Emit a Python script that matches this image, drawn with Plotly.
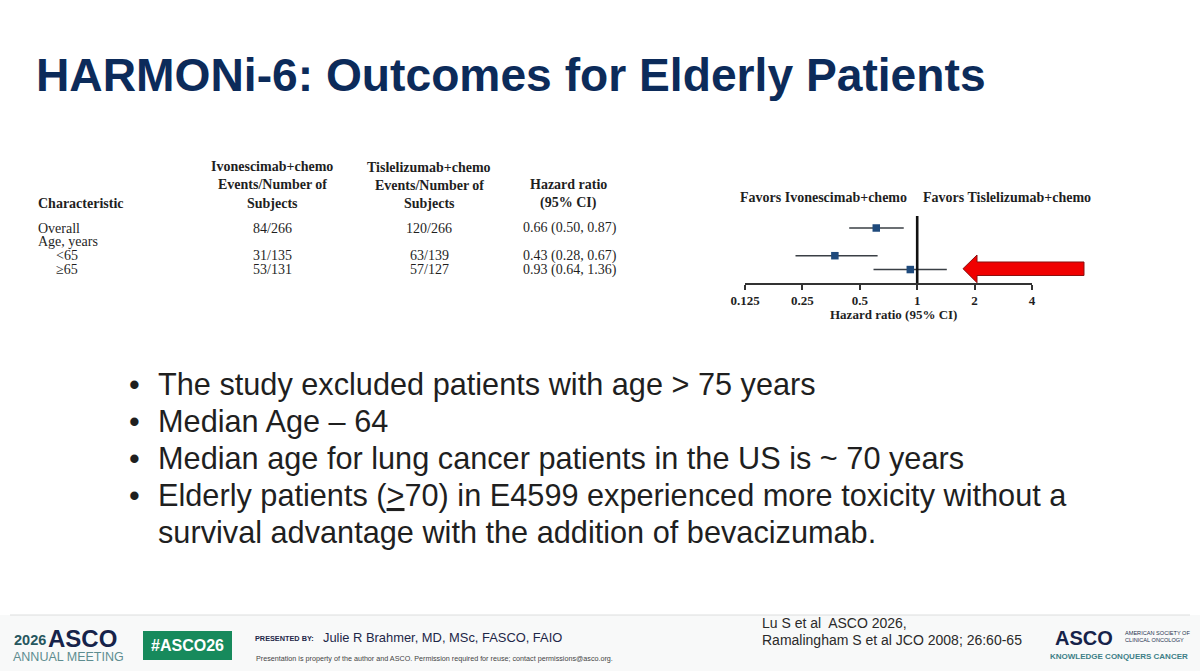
import math
import plotly.graph_objects as go

# ---------------- data ----------------
characteristics = ["Overall", "Age, years", "&lt;65", "≥65"]
indent = [False, False, True, True]
ivo_events = ["84/266", "", "31/135", "53/131"]
tis_events = ["120/266", "", "63/139", "57/127"]
hr_text = ["0.66 (0.50, 0.87)", "", "0.43 (0.28, 0.67)", "0.93 (0.64, 1.36)"]

# plotted marks as drawn in the forest panel
plot_rows = [0, 2, 3]
hr_point = [0.61, 0.37, 0.92]
ci_low = [0.44, 0.23, 0.59]
ci_high = [0.85, 0.62, 1.43]

tick_vals = [0.125, 0.25, 0.5, 1, 2, 4]
tick_text = ["0.125", "0.25", "0.5", "1", "2", "4"]

bullets = [
    "The study excluded patients with age &gt; 75 years",
    "Median Age – 64",
    "Median age for lung cancer patients in the US is ~ 70 years",
    "Elderly patients (<u>&gt;</u>70) in E4599 experienced more toxicity without a",
]
bullet_cont = "survival advantage with the addition of bevacizumab."

# ---------------- layout helpers ----------------
W, H = 1200, 671


def px(x):
    return x / W


def py(y):
    return 1 - y / H


ROW0, ROWSTEP = 228.0, 13.85
AX_TOP, AX_BOT = 200.0, 283.0


def row_px(i):
    return ROW0 + ROWSTEP * i


SERIF = "Liberation Serif"
SANS = "Liberation Sans"
NAVY = "#0c2b5a"
TXT = "#1f1f1f"

fig = go.Figure()

# forest plot
fig.add_trace(go.Scatter(
    x=hr_point, y=plot_rows, mode="markers",
    marker=dict(symbol="square", size=7.5, color="#1f4a7c"),
    error_x=dict(type="data", symmetric=False,
                 array=[h - p for h, p in zip(ci_high, hr_point)],
                 arrayminus=[p - l for p, l in zip(hr_point, ci_low)],
                 width=0, thickness=1.6, color="#3a3f45"),
    showlegend=False, hoverinfo="skip",
))

ann = []


def text(x, y, s, size, font=SERIF, color=TXT, anchor="center", weight="normal", **kw):
    ann.append(dict(x=px(x), y=py(y), xref="paper", yref="paper", text=s,
                    showarrow=False, xanchor=anchor, yanchor="middle", borderpad=0,
                    font=dict(family=font, size=size, color=color, weight=weight), **kw))


# title
text(35, 75, "HARMONi-6: Outcomes for Elderly Patients", 46.2, font=SANS, color=NAVY,
     anchor="left", weight="bold")

# table headers
FS = 14
col_ivo, col_tis, col_hr = 272, 429, 568
for y, s in zip([166, 185, 203], ["Ivonescimab+chemo", "Events/Number of", "Subjects"]):
    text(col_ivo, y, s, FS, weight="bold")
for y, s in zip([167, 185.5, 203], ["Tislelizumab+chemo", "Events/Number of", "Subjects"]):
    text(col_tis, y, s, FS, weight="bold")
for y, s in zip([185, 203], ["Hazard ratio", "(95% CI)"]):
    text(col_hr, y, s, FS, weight="bold")
text(37, 203, "Characteristic", FS, anchor="left", weight="bold")

# table body
for i, c in enumerate(characteristics):
    y = row_px(i)
    text(55 if indent[i] else 37, y, c, FS, anchor="left")
    if ivo_events[i]:
        text(col_ivo, y, ivo_events[i], FS)
    if tis_events[i]:
        text(col_tis, y, tis_events[i], FS)
    if hr_text[i]:
        text(col_hr + 2, y, hr_text[i], FS)

# forest labels
text(823, 197, "Favors Ivonescimab+chemo", FS, weight="bold")
text(1007, 197, "Favors Tislelizumab+chemo", FS, weight="bold")
text(893, 314, "Hazard ratio (95% CI)", 13, weight="bold")

# bullets
BFS = 30.7
bullet_y = [384, 421, 458, 495]
for y, s in zip(bullet_y, bullets):
    text(134, y, "•", BFS, font=SANS, color=TXT)
    text(157, y, s, BFS, font=SANS, color=TXT, anchor="left")
text(157, 532, bullet_cont, BFS, font=SANS, color=TXT, anchor="left")

# footer
text(13, 640, "2026", 14.5, font=SANS, color="#27575e", anchor="left", weight="bold")
text(47, 638.5, "ASCO", 24, font=SANS, color="#16234a", anchor="left", weight="bold")
text(12, 657, "ANNUAL MEETING", 12.5, font=SANS, color="#5e8d90", anchor="left")
text(187.5, 645, "#ASCO26", 16, font=SANS, color="white", weight="bold")
text(254, 638, "PRESENTED BY:", 7.3, font=SANS, color="#1d2748", anchor="left", weight="bold")
text(322, 637, "Julie R Brahmer, MD, MSc, FASCO, FAIO", 12.9, font=SANS, color="#1d2748", anchor="left")
text(255, 658, "Presentation is property of the author and ASCO. Permission required for reuse; "
     "contact permissions@asco.org.", 7.2, font=SANS, color="#444", anchor="left")
text(761, 623, "Lu S et al  ASCO 2026,", 14, font=SANS, color="#2a2a2a", anchor="left")
text(761, 640, "Ramalingham S et al JCO 2008; 26:60-65", 14, font=SANS, color="#2a2a2a", anchor="left")
text(1054, 638, "ASCO", 20, font=SANS, color="#16234a", anchor="left", weight="bold")
text(1124, 633, "AMERICAN SOCIETY OF", 5.6, font=SANS, color="#27334f", anchor="left")
text(1124, 640, "CLINICAL ONCOLOGY", 5.6, font=SANS, color="#27334f", anchor="left")
text(1119, 656, "KNOWLEDGE CONQUERS CANCER", 8, font=SANS, color="#3d7f87", weight="bold")

# shapes
shapes = [
    # footer background + separator
    dict(type="rect", xref="paper", yref="paper", x0=0, x1=1, y0=0, y1=py(615),
         fillcolor="#f8f9f9", line=dict(width=0), layer="below"),
    dict(type="line", xref="paper", yref="paper", x0=px(10), x1=px(1190), y0=py(615), y1=py(615),
         line=dict(color="#dcdede", width=1)),
    # green hashtag box
    dict(type="rect", xref="paper", yref="paper", x0=px(143), x1=px(232), y0=py(660), y1=py(631),
         fillcolor="#178a5c", line=dict(width=0), layer="below"),
    # line of no effect
    dict(type="line", xref="x", yref="paper", x0=1, x1=1, y0=py(AX_BOT), y1=py(216),
         line=dict(color="#111", width=2.6)),
]

# red block arrow (pointer)
arrow_pts = [(963, 268.7), (977, 255), (977, 262), (1084, 262), (1084, 275.5),
             (977, 275.5), (977, 282.7)]
path = "M " + " L ".join(f"{px(x):.5f},{py(y):.5f}" for x, y in arrow_pts) + " Z"
shapes.append(dict(type="path", xref="paper", yref="paper", path=path,
                   fillcolor="#f00000", line=dict(color="#8a1010", width=1)))

fig.update_layout(
    template="none", autosize=False,
    width=W, height=H, margin=dict(l=0, r=0, t=0, b=0, pad=0, autoexpand=False),
    paper_bgcolor="white", plot_bgcolor="rgba(0,0,0,0)",
    annotations=ann, shapes=shapes, showlegend=False,
    xaxis=dict(type="log", domain=[px(745), px(1032)],
               range=[math.log10(0.125), math.log10(4)],
               tickvals=tick_vals, ticktext=tick_text,
               tickfont=dict(family=SERIF, size=13, color=TXT, weight="bold"),
               showline=True, linecolor="#333", linewidth=1.5,
               ticks="outside", ticklen=5, tickcolor="#333", tickwidth=1.5,
               showgrid=False, zeroline=False, fixedrange=True, automargin=False),
    yaxis=dict(domain=[py(AX_BOT), py(AX_TOP)],
               range=[(AX_BOT - ROW0) / ROWSTEP, (AX_TOP - ROW0) / ROWSTEP],
               visible=False, showgrid=False, zeroline=False, fixedrange=True,
               automargin=False),
)

fig.write_html("out.html")
